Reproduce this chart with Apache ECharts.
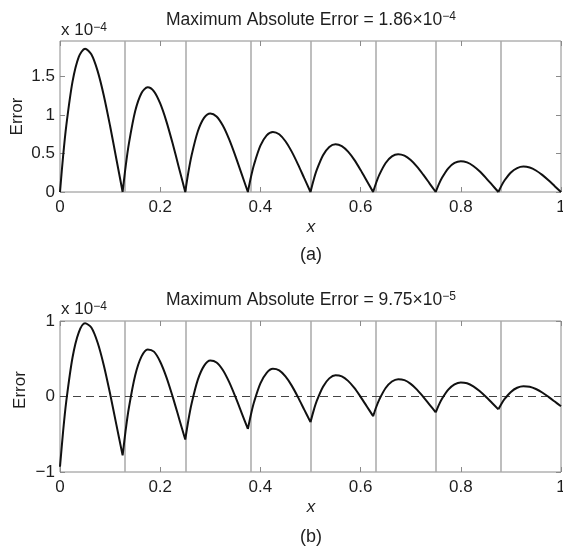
<!DOCTYPE html>
<html><head><meta charset="utf-8">
<script src="https://cdn.jsdelivr.net/npm/echarts@6/dist/echarts.min.js"></script>
<style>html,body{margin:0;padding:0;background:#fff}#chart{width:563px;height:554px}</style>
</head><body><div id="chart"></div>
<script>
// 8 arches between interpolation nodes, 12 sampled points per arch
const POINTS_PER_ARCH = 12;
const xValues = [
  0, 0.00625, 0.0125, 0.025, 0.0375, 0.05, 0.0625, 0.075, 0.0875, 0.1, 0.1125, 0.125,
  0.125, 0.13125, 0.1375, 0.15, 0.1625, 0.175, 0.1875, 0.2, 0.2125, 0.225, 0.2375, 0.25,
  0.25, 0.25625, 0.2625, 0.275, 0.2875, 0.3, 0.3125, 0.325, 0.3375, 0.35, 0.3625, 0.375,
  0.375, 0.38125, 0.3875, 0.4, 0.4125, 0.425, 0.4375, 0.45, 0.4625, 0.475, 0.4875, 0.5,
  0.5, 0.50625, 0.5125, 0.525, 0.5375, 0.55, 0.5625, 0.575, 0.5875, 0.6, 0.6125, 0.625,
  0.625, 0.63125, 0.6375, 0.65, 0.6625, 0.675, 0.6875, 0.7, 0.7125, 0.725, 0.7375, 0.75,
  0.75, 0.75625, 0.7625, 0.775, 0.7875, 0.8, 0.8125, 0.825, 0.8375, 0.85, 0.8625, 0.875,
  0.875, 0.88125, 0.8875, 0.9, 0.9125, 0.925, 0.9375, 0.95, 0.9625, 0.975, 0.9875, 1
];
// panel (a): absolute error, in units of 1e-4
const errorA = [
  0, 0.469, 0.859, 1.432, 1.754, 1.86, 1.787, 1.572, 1.250, 0.856, 0.428, 0,
  0, 0.343, 0.628, 1.047, 1.282, 1.36, 1.307, 1.149, 0.914, 0.626, 0.313, 0,
  0, 0.257, 0.471, 0.785, 0.962, 1.02, 0.980, 0.862, 0.685, 0.469, 0.235, 0,
  0, 0.197, 0.360, 0.601, 0.736, 0.78, 0.750, 0.659, 0.524, 0.359, 0.179, 0,
  0, 0.156, 0.286, 0.477, 0.585, 0.62, 0.596, 0.524, 0.417, 0.285, 0.143, 0,
  0, 0.123, 0.226, 0.377, 0.462, 0.49, 0.471, 0.414, 0.329, 0.225, 0.113, 0,
  0, 0.101, 0.185, 0.308, 0.377, 0.40, 0.384, 0.338, 0.269, 0.184, 0.092, 0,
  0, 0.083, 0.152, 0.254, 0.311, 0.33, 0.317, 0.279, 0.222, 0.152, 0.076, 0
];
// panel (b): signed error, in units of 1e-4
const errorB = [
  -0.93, -0.459, -0.065, 0.517, 0.850, 0.970, 0.913, 0.715, 0.412, 0.036, -0.372, -0.78,
  -0.78, -0.437, -0.149, 0.278, 0.528, 0.624, 0.594, 0.461, 0.254, -0.005, -0.287, -0.57,
  -0.57, -0.314, -0.099, 0.220, 0.406, 0.476, 0.451, 0.351, 0.193, -0.003, -0.216, -0.43,
  -0.43, -0.234, -0.070, 0.173, 0.314, 0.366, 0.345, 0.266, 0.144, -0.008, -0.174, -0.34,
  -0.34, -0.187, -0.059, 0.130, 0.240, 0.282, 0.267, 0.207, 0.113, -0.005, -0.132, -0.26,
  -0.26, -0.139, -0.038, 0.112, 0.198, 0.230, 0.217, 0.167, 0.091, -0.004, -0.107, -0.21,
  -0.21, -0.112, -0.030, 0.091, 0.160, 0.186, 0.175, 0.135, 0.073, -0.003, -0.087, -0.17,
  -0.17, -0.095, -0.032, 0.061, 0.116, 0.136, 0.129, 0.099, 0.053, -0.005, -0.067, -0.13
];
const nodes = [0.125, 0.25, 0.375, 0.5, 0.625, 0.75, 0.875];
const xTicks = [0, 0.2, 0.4, 0.6, 0.8, 1];
const yTicksA = [0, 0.5, 1, 1.5];
const yTicksB = [-1, 0, 1];
const titleA = ['Maximum Absolute Error = 1.86×10', '−4'];
const titleB = ['Maximum Absolute Error = 9.75×10', '−5'];
const scaleLabel = ['x 10', '−4'];
const yName = 'Error';
const xName = 'x';
const panelLabels = ['(a)', '(b)'];

const FONT = "'Liberation Sans', Arial, Helvetica, sans-serif";
const BOX = '#8a8a8a';
const TXT = '#1e1e1e';

function buildData(xs, ys) {
  const out = [];
  for (let i = 0; i < xs.length; i++) {
    out.push([xs[i], ys[i]]);
    if (i % POINTS_PER_ARCH === POINTS_PER_ARCH - 1 && i < xs.length - 1) out.push(['-', '-']);
  }
  return out;
}
function inList(list, v) { return list.some(t => Math.abs(t - v) < 1e-9); }
function fmt(v) { return String(+v.toFixed(6)).replace('-', '−'); }

const grids = [
  {left: 60, top: 41, width: 501, height: 151},
  {left: 60, top: 321, width: 501, height: 151}
];
const yRanges = [[0, 1.96, 0.5, yTicksA], [-1, 1, 1, yTicksB]];

const xAxes = [], yAxes = [];
grids.forEach((g, i) => {
  ['bottom', 'top'].forEach((pos, j) => {
    xAxes.push({
      type: 'value', gridIndex: i, position: pos, min: 0, max: 1, interval: 0.2,
      axisLine: {show: false, onZero: false}, splitLine: {show: false},
      axisTick: {show: true, inside: true, length: 5, lineStyle: {color: BOX, width: 1}},
      axisLabel: {show: j === 0, margin: 7, color: TXT, fontSize: 17, fontFamily: FONT,
        formatter: v => inList(xTicks, v) ? fmt(v) : ''}
    });
  });
  const r = yRanges[i];
  ['left', 'right'].forEach((pos, j) => {
    yAxes.push({
      type: 'value', gridIndex: i, position: pos, min: r[0], max: r[1], interval: r[2],
      axisLine: {show: false, onZero: false}, splitLine: {show: false},
      axisTick: {show: true, inside: true, length: 5, lineStyle: {color: BOX, width: 1},
        customValues: r[3]},
      axisLabel: {show: j === 0, margin: 5, color: TXT, fontSize: 17, fontFamily: FONT,
        customValues: r[3], formatter: v => inList(r[3], v) ? fmt(v) : ''}
    });
  });
});

const nodeLines = {
  silent: true, symbol: ['none', 'none'], z: 1, animation: false,
  label: {show: false},
  lineStyle: {color: '#a8a8a8', type: 'solid', width: 1.5},
  data: nodes.map(v => ({xAxis: v}))
};

const lineCommon = {
  type: 'line', showSymbol: false, smooth: 0.3,
  connectNulls: false, animation: false, z: 3,
  lineStyle: {color: '#111', width: 2}
};
const series = [
  Object.assign({}, lineCommon, {xAxisIndex: 0, yAxisIndex: 0,
    data: buildData(xValues, errorA), markLine: nodeLines}),
  Object.assign({}, lineCommon, {xAxisIndex: 2, yAxisIndex: 2,
    data: buildData(xValues, errorB),
    markLine: Object.assign({}, nodeLines, {
      data: nodes.map(v => ({xAxis: v})).concat([{yAxis: 0, lineStyle: {color: '#444', type: [8, 5], width: 1}}])
    })})
];

function richText(x, y, parts, size, supSize) {
  return {
    type: 'text', x: x, y: y, silent: true,
    style: {
      text: '{m|' + parts[0] + '}{s|' + parts[1] + '}',
      align: 'center', verticalAlign: 'middle',
      rich: {
        m: {fontSize: size, fontFamily: FONT, fill: TXT, color: TXT},
        s: {fontSize: supSize, fontFamily: FONT, fill: TXT, color: TXT, verticalAlign: 'top'}
      }
    }
  };
}
function scaleText(x, y) {
  const t = richText(x, y, scaleLabel, 17, 12);
  t.style.align = 'left';
  t.style.rich.s.padding = [0, 0, 4, 0];
  return t;
}
function plain(x, y, text, opts) {
  return Object.assign({type: 'text', x: x, y: y, silent: true,
    style: Object.assign({text: text, fontSize: 17, fontFamily: FONT, fill: TXT,
      align: 'center', verticalAlign: 'middle'}, opts || {})});
}

const graphic = [
  richText(311, 20, titleA, 17.5, 12),
  scaleText(61, 30),
  Object.assign(plain(0, 0, yName), {x: 17.5, y: 116.5, rotation: Math.PI / 2}),
  plain(311, 227, xName, {fontStyle: 'italic'}),
  plain(311, 255, panelLabels[0], {fontSize: 18}),
  richText(311, 300, titleB, 17.5, 12),
  scaleText(61, 309),
  Object.assign(plain(0, 0, yName), {x: 20, y: 390, rotation: Math.PI / 2}),
  plain(311, 507, xName, {fontStyle: 'italic'}),
  plain(311, 537, panelLabels[1], {fontSize: 18})
];

const chart = echarts.init(document.getElementById('chart'), null, {renderer: 'canvas'});
chart.setOption({
  animation: false,
  backgroundColor: '#fff',
  grid: grids.map(g => Object.assign({show: true, borderColor: BOX, borderWidth: 1,
    backgroundColor: 'transparent', containLabel: false, outerBoundsMode: 'none'}, g)),
  xAxis: xAxes,
  yAxis: yAxes,
  series: series,
  graphic: graphic
});
</script></body></html>
